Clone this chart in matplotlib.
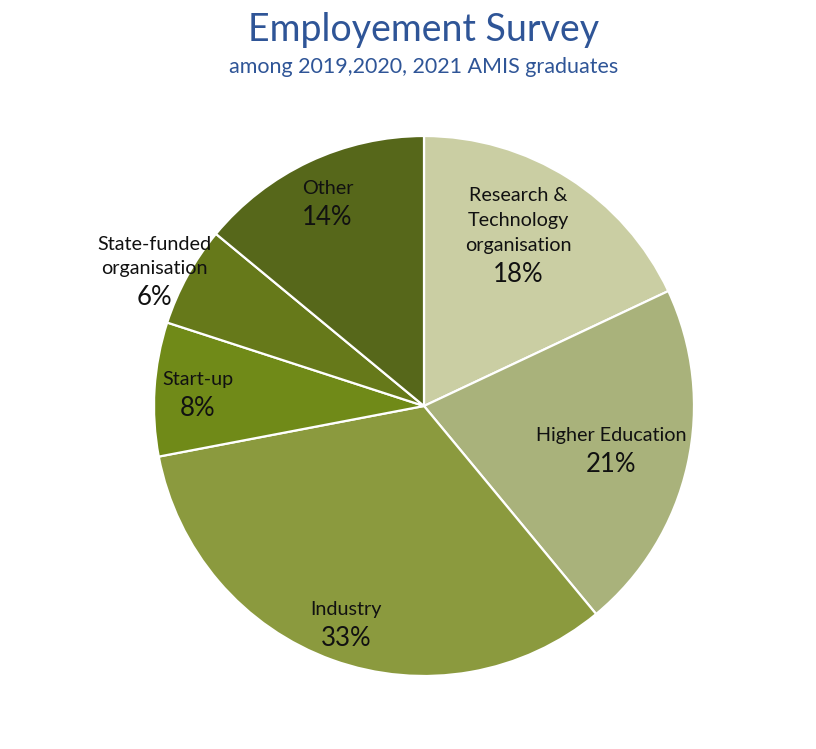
import numpy as np
import matplotlib
matplotlib.use("Agg")
import matplotlib.pyplot as plt

plt.rcParams['font.family'] = ['Lato', 'DejaVu Sans']

# data
labels = ['Research &\nTechnology\norganisation', 'Higher Education', 'Industry',
          'Start-up', 'State-funded\norganisation', 'Other']
shares = [18, 21, 33, 8, 6, 14]
colors = ['#CACEA3', '#A9B27B', '#8B9A3E', '#708A18', '#66791A', '#56671A']
# label placement: distance (fraction of radius) and angle tweak per slice
label_dist = [0.65, 0.71, 0.85, 0.84, 1.10, 0.84]
label_turn = [0, 0, 0, 0, 4, 0]

W, H = 816, 749
fig = plt.figure(figsize=(W / 100, H / 100), dpi=100)
ax = fig.add_axes([0, 0, 1, 1])

cx, cy, R = 424, H - 406, 270
wedges, _ = ax.pie(shares, colors=colors, startangle=90, counterclock=False,
                   center=(cx, cy), radius=R, frame=True,
                   wedgeprops=dict(edgecolor='white', linewidth=1.6))
ax.set_xlim(0, W)
ax.set_ylim(0, H)
ax.set_aspect('equal')
ax.axis('off')

for w, lab, val, d, t in zip(wedges, labels, shares, label_dist, label_turn):
    ang = np.deg2rad((w.theta1 + w.theta2) / 2 + t)
    x = cx + d * R * np.cos(ang)
    y = cy + d * R * np.sin(ang)
    ax.text(x, y + 4, lab, ha='center', va='bottom', fontsize=14.2,
            linespacing=1.55, color='#111111')
    ax.text(x, y - 4, f'{val}%', ha='center', va='top', fontsize=18.5,
            color='#111111')

fig.text(424 / W, 1 - 30 / H, 'Employement Survey', ha='center', va='center',
         fontsize=27, color='#2F5597')
fig.text(424 / W, 1 - 67 / H, 'among 2019,2020, 2021 AMIS graduates',
         ha='center', va='center', fontsize=15.5, color='#2F5597')

fig.savefig('out.png', dpi=100, facecolor='white')
